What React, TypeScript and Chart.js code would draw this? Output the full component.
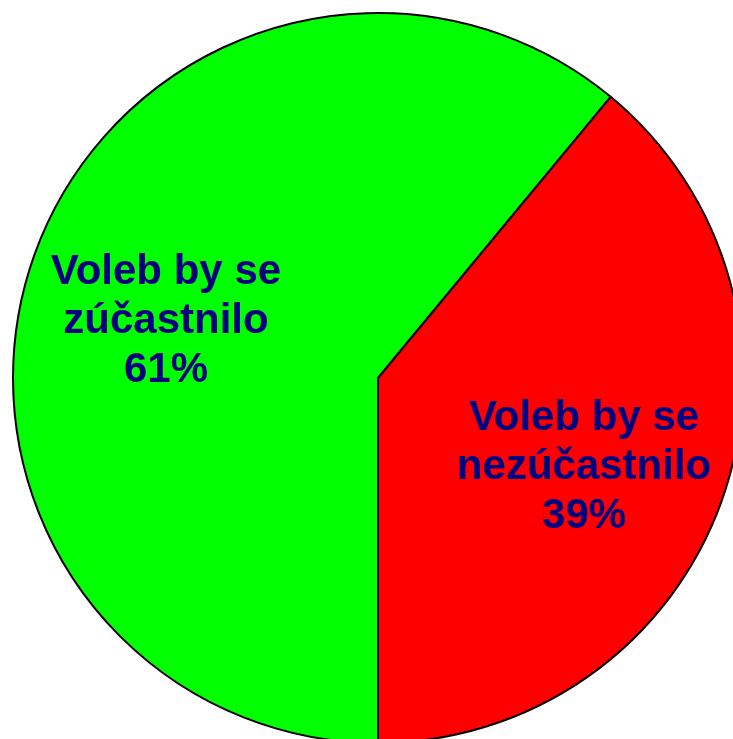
import React, { useEffect, useRef } from "react";
import { Chart, registerables } from "chart.js";

Chart.register(...registerables);

const categories = ["Voleb by se zúčastnilo", "Voleb by se nezúčastnilo"];
const labelLines = [
  ["Voleb by se", "zúčastnilo"],
  ["Voleb by se", "nezúčastnilo"],
];
const values = [61, 39];
const colors = ["#00FF00", "#FF0000"];

const labelShift = [
  [-6, 18],
  [0, 15],
];

const labelPlugin = {
  id: "sliceLabels",
  afterDatasetsDraw(chart: any) {
    const ctx = chart.ctx;
    const meta = chart.getDatasetMeta(0);
    ctx.save();
    ctx.fillStyle = "#000080";
    ctx.font = "bold 42px 'Liberation Sans', Arial, sans-serif";
    ctx.textAlign = "center";
    ctx.textBaseline = "middle";
    const lh = 49;
    meta.data.forEach((arc: any, i: number) => {
      const mid = (arc.startAngle + arc.endAngle) / 2;
      const r = arc.outerRadius * 0.6;
      const cx = arc.x + Math.cos(mid) * r + labelShift[i][0];
      const cy = arc.y + Math.sin(mid) * r + labelShift[i][1];
      const lines = [...labelLines[i], values[i] + "%"];
      lines.forEach((t, k) => {
        ctx.fillText(t, cx, cy + (k - 1) * lh);
      });
    });
    ctx.restore();
  },
};

export default function App() {
  const ref = useRef<HTMLCanvasElement>(null);
  useEffect(() => {
    const chart = new Chart(ref.current!, {
      type: "pie",
      data: {
        labels: categories,
        datasets: [
          {
            data: values,
            backgroundColor: colors,
            borderColor: "#000000",
            borderWidth: 2,
          },
        ],
      },
      options: {
        responsive: false,
        animation: false,
        rotation: 180,
        layout: { padding: 4 },
        plugins: {
          legend: { display: false },
          tooltip: { enabled: false },
        },
      },
      plugins: [labelPlugin],
    });
    return () => chart.destroy();
  }, []);
  return (
    <div
      style={{
        position: "fixed",
        left: 0,
        top: 0,
        width: 733,
        height: 739,
        overflow: "hidden",
        background: "#fff",
      }}
    >
      <canvas
        ref={ref}
        width={740}
        height={740}
        style={{ position: "absolute", left: 8, top: 8, width: 740, height: 740 }}
      />
    </div>
  );
}
